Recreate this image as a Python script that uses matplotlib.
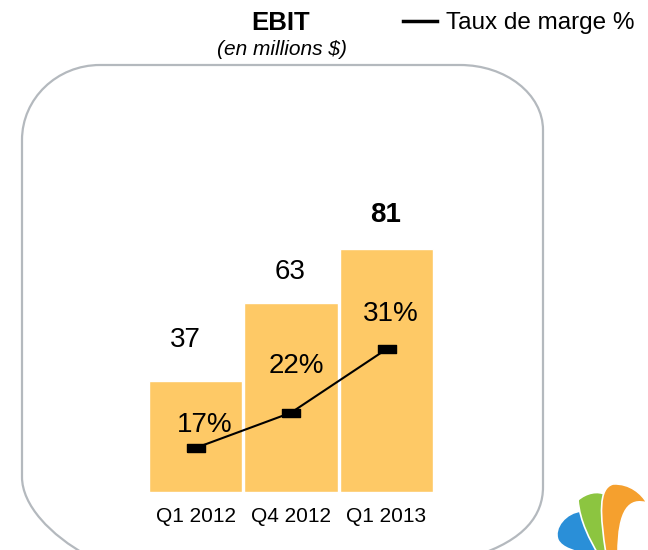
import matplotlib
matplotlib.use("Agg")
import matplotlib.pyplot as plt
from matplotlib.patches import PathPatch
from matplotlib.path import Path
from matplotlib.lines import Line2D

# ---- data ----
categories = ["Q1 2012", "Q4 2012", "Q1 2013"]
ebit = [37, 63, 81]
margin_pct = [17, 22, 31]
title = "EBIT"
subtitle = "(en millions $)"
legend_label = "Taux de marge %"

# ---- style ----
W, H = 648, 550
bar_color = "#FEC966"
frame_color = "#B4B9BE"
plt.rcParams['font.family'] = ['Liberation Sans', 'DejaVu Sans']

fig = plt.figure(figsize=(W / 100, H / 100), dpi=100)

# background axes in pixel coordinates (frame, titles, logo)
bg = fig.add_axes([0, 0, 1, 1], zorder=0)
bg.set_xlim(0, W)
bg.set_ylim(H, 0)
bg.axis("off")

# open rounded frame (its bottom edge lies below the picture)
K = 0.5523
x0, y0, x1 = 22, 65, 543
tl = (78, 75)
tr = (83, 65)
M, L, C = Path.MOVETO, Path.LINETO, Path.CURVE4
fv = [(88, 556), (50, 535), (22, 505), (22, 477),
      (x0, y0 + tl[1]),
      (x0, y0 + tl[1] - K * tl[1]), (x0 + tl[0] - K * tl[0], y0), (x0 + tl[0], y0),
      (x1 - tr[0], y0),
      (x1 - tr[0] + K * tr[0], y0), (x1, y0 + tr[1] - K * tr[1]), (x1, y0 + tr[1]),
      (543, 487),
      (543, 515), (525, 540), (475, 556)]
fc = [M, C, C, C, L, C, C, C, L, C, C, C, L, C, C, C]
bg.add_patch(PathPatch(Path(fv, fc), facecolor="none", edgecolor=frame_color,
                       lw=1.6, clip_on=False))

bg.text(281, 30, title, ha="center", va="baseline", fontsize=18.5,
        fontweight="bold")
bg.text(282, 55, subtitle, ha="center", va="baseline", fontsize=15,
        fontstyle="italic")

# logo (three swooshes)
def shape(verts, codes, color):
    bg.add_patch(PathPatch(Path(verts, codes), facecolor=color,
                           edgecolor="white", lw=1.2, clip_on=False))

shape([(582, 511), (566, 512), (553, 528), (558, 540),
       (562, 548), (575, 552), (590, 554), (599, 554),
       (592, 540), (588, 525), (582, 511)],
      [M, C, C, C, C, C, C, L, C, C, C], "#2A8FD8")
shape([(578, 500), (580, 522), (590, 540), (598, 554), (608, 554),
       (603, 535), (601, 512), (606, 495), (598, 490), (586, 493), (578, 500)],
      [M, C, C, C, L, C, C, C, C, C, C], "#8CC540")
shape([(606, 554), (600, 515), (598, 488), (613, 484),
       (630, 483), (642, 494), (647, 503),
       (630, 498), (618, 508), (618, 554), (606, 554)],
      [M, C, C, C, C, C, C, C, C, C, L], "#F5A02E")

# main chart axes: baseline at y=492 px, 3 px per unit
ax_left, ax_w = 100, 382
ax_bottom, ax_h = 492, 330
ax = fig.add_axes([ax_left / W, (H - ax_bottom) / H, ax_w / W, ax_h / H],
                  zorder=1)
ax.patch.set_alpha(0)
x = list(range(len(categories)))
ax.bar(x, ebit, width=0.98, color=bar_color, edgecolor="white", lw=1)
ax.set_xlim(-1, 3)
ax.set_ylim(0, 110)
ax.set_xticks(x)
ax.set_xticklabels(categories, fontsize=15)
ax.tick_params(axis="x", length=0, pad=11)
ax.set_yticks([])
for s in ax.spines.values():
    s.set_visible(False)

val_offsets = [(-10, 41), (-1, 31), (-1, 34)]
for i, v in enumerate(ebit):
    ax.annotate(str(v), (x[i], v), xytext=val_offsets[i],
                textcoords="offset pixels", ha="center", va="center",
                fontsize=20, fontweight="bold" if i == len(ebit) - 1 else "normal")

# secondary axis for margin line
ax2 = ax.twinx()
ax2.set_ylim(10.77, 57.5)
ax2.axis("off")
rect = [(-1, -0.44), (1, -0.44), (1, 0.44), (-1, 0.44), (-1, -0.44)]
ax2.plot(x, margin_pct, color="black", lw=1.5, marker=rect, ms=13,
         mfc="black", mec="black")
pct_offsets = [(9, 23), (5, 47), (4, 35)]
for i, p in enumerate(margin_pct):
    ax2.annotate(f"{p}%", (x[i], p), xytext=pct_offsets[i],
                 textcoords="offset pixels", ha="center", va="center",
                 fontsize=20)

handle = Line2D([], [], color="black", lw=2.5)
fig.legend([handle], [legend_label], loc="center left",
           bbox_to_anchor=(403 / W, 1 - 23 / H), bbox_transform=fig.transFigure,
           frameon=False, fontsize=17.5, borderpad=0, borderaxespad=0,
           handlelength=1.4, handletextpad=0.35)

fig.savefig("out.png", dpi=100)
